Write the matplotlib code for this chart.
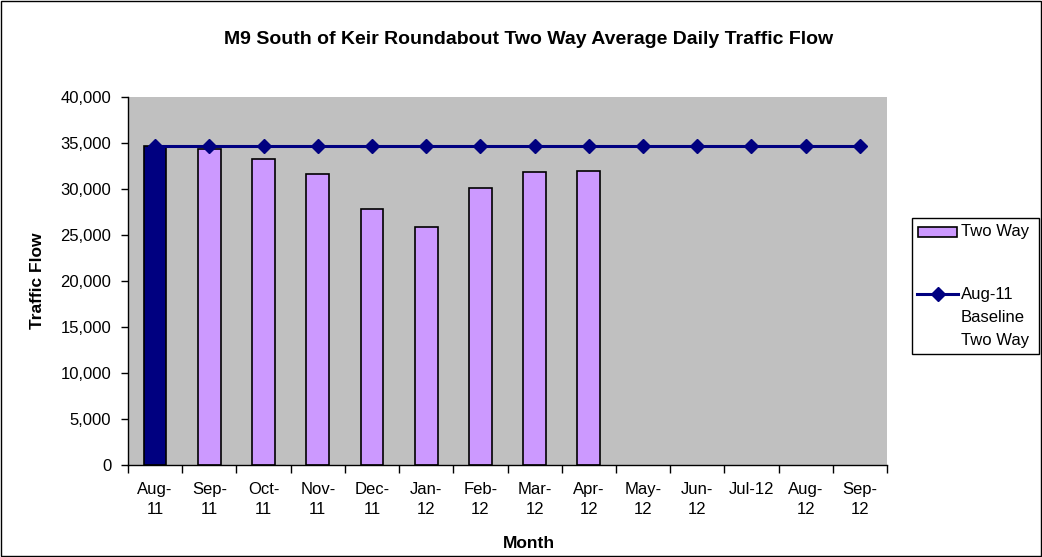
import matplotlib
matplotlib.use("Agg")
import matplotlib.pyplot as plt
from matplotlib.patches import Rectangle
from matplotlib.lines import Line2D
import numpy as np

months = ["Aug-\n11", "Sep-\n11", "Oct-\n11", "Nov-\n11", "Dec-\n11", "Jan-\n12", "Feb-\n12",
          "Mar-\n12", "Apr-\n12", "May-\n12", "Jun-\n12", "Jul-12\n", "Aug-\n12", "Sep-\n12"]
two_way = [34650, 34300, 33300, 31650, 27850, 25850, 30100, 31800, 32000]
baseline = [34650] * 14
legend_labels = ["Two Way", "Aug-11", "Baseline", "Two Way"]

plt.rcParams['font.family'] = ['Liberation Sans', 'DejaVu Sans']

W, H = 1042, 557
fig = plt.figure(figsize=(W/100, H/100), dpi=100)
ax = fig.add_axes([128/W, 1-465/H, 759/W, 368/H])
ax.set_facecolor('#C0C0C0')

x = np.arange(len(months))
bx = np.arange(len(two_way))
colors = ['#000080'] + ['#CC99FF'] * (len(two_way) - 1)
ax.bar(bx, two_way, width=0.42, color=colors, edgecolor='black', linewidth=1.2, zorder=2)
ax.plot(x, baseline, color='#000080', linewidth=2.2, marker='D', markersize=7.5, zorder=3)

ax.set_xlim(-0.5, len(months) - 0.5)
ax.set_ylim(0, 40000)
ax.set_yticks(np.arange(0, 40001, 5000))
ax.set_yticklabels([f"{v:,}" for v in range(0, 40001, 5000)], fontsize=12)
ax.set_xticks(x)
ax.set_xticklabels(months, fontsize=12, linespacing=1.45)
ax.set_xticks(np.arange(-0.5, len(months), 1), minor=True)
ax.tick_params(axis='x', which='major', length=0, pad=12)
ax.tick_params(axis='x', which='minor', length=6, direction='out', width=1)
ax.tick_params(axis='y', length=5, direction='out', width=1, pad=7)
for s in ['top', 'right']:
    ax.spines[s].set_visible(False)
ax.spines['left'].set_linewidth(1.0)
ax.spines['bottom'].set_linewidth(1.0)

fig.text(529/W, 1-543/H, "Month", ha='center', va='center', fontsize=12.5, fontweight='bold')
fig.text(38/W, 1-281/H, "Traffic Flow", ha='center', va='center', rotation=90,
         fontsize=12.5, fontweight='bold')
fig.text(529/W, 1-40/H, "M9 South of Keir Roundabout Two Way Average Daily Traffic Flow",
         ha='center', va='center', fontsize=14, fontweight='bold')

# legend (drawn in figure pixel coordinates)
def fx(px): return px / W
def fy(py): return 1 - py / H
fig.patches.append(Rectangle((fx(912), fy(354)), (1039-912)/W, (354-218)/H,
                             transform=fig.transFigure, facecolor='white',
                             edgecolor='black', linewidth=1))
fig.patches.append(Rectangle((fx(918), fy(237)), (957-918)/W, (237-227)/H,
                             transform=fig.transFigure, facecolor='#CC99FF',
                             edgecolor='black', linewidth=1.2))
fig.lines.append(Line2D([fx(917), fx(958)], [fy(294), fy(294)], transform=fig.transFigure,
                        color='#000080', linewidth=2.2))
fig.lines.append(Line2D([fx(937.5)], [fy(294)], transform=fig.transFigure, color='#000080',
                        marker='D', markersize=7))
fig.text(fx(961), fy(232), legend_labels[0], ha='left', va='center', fontsize=12)
for i, lbl in enumerate(legend_labels[1:]):
    fig.text(fx(961), fy(294 + 23 * i), lbl, ha='left', va='center', fontsize=12)

fig.patches.append(Rectangle((0.001, 0.001), 0.998, 0.998, transform=fig.transFigure,
                             fill=False, edgecolor='black', linewidth=1))
fig.savefig("out.png", dpi=100)
